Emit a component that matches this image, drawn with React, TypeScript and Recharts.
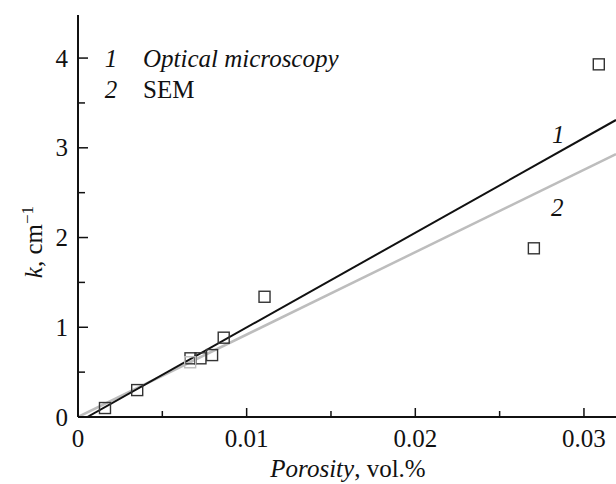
import { ComposedChart, Line, Scatter, XAxis, YAxis, ReferenceDot } from 'recharts'

const FONT = 'Liberation Serif, Times New Roman, DejaVu Serif, serif'

// measured points (porosity, vol.% / k, cm^-1)
const porosity = [0.0016, 0.00351, 0.00667, 0.00726, 0.00795, 0.00864, 0.01106, 0.02703, 0.03088]
const kValues = [0.1, 0.3, 0.654, 0.654, 0.69, 0.884, 1.34, 1.88, 3.93]

// the light square sitting on the SEM line
const semPorosity = [0.00665]
const semK = [0.61]

// fit lines
const fit1X = [0.00055, 0.0319]
const fit1K = [0, 3.31]
const fit2X = [0, 0.0319]
const fit2K = [0, 2.93]

const xTicks = [0, 0.005, 0.01, 0.015, 0.02, 0.025, 0.03]
const xTickLabels: Record<string, string> = { '0': '0', '0.01': '0.01', '0.02': '0.02', '0.03': '0.03' }
const yTicks = [0, 0.5, 1, 1.5, 2, 2.5, 3, 3.5, 4]
const yTickLabels: Record<string, string> = { '0': '0', '1': '1', '2': '2', '3': '3', '4': '4' }

const lineLabels = ['1', '2']
const lineLabelX = [0.02848, 0.02842]
const lineLabelK = [3.155, 2.34]

const points = porosity.map((x, i) => ({ x, k: kValues[i] }))
const semPoints = semPorosity.map((x, i) => ({ x, k: semK[i] }))
const fit1 = fit1X.map((x, i) => ({ x, k: fit1K[i] }))
const fit2 = fit2X.map((x, i) => ({ x, k: fit2K[i] }))

const txt = { fontFamily: FONT, fontSize: 25, fill: '#111' }

const XTick = (props: any) => {
  const { x, y, payload } = props
  const label = xTickLabels[String(payload.value)]
  return (
    <g>
      <line x1={x} y1={y} x2={x} y2={y - (label ? 9 : 6)} stroke="#111" strokeWidth={1.5} />
      {label && (
        <text x={x} y={y + 30} textAnchor="middle" style={txt}>
          {label}
        </text>
      )}
    </g>
  )
}

const YTick = (props: any) => {
  const { x, y, payload } = props
  const label = yTickLabels[String(payload.value)]
  return (
    <g>
      <line x1={x} y1={y} x2={x + (label ? 10 : 7)} y2={y} stroke="#111" strokeWidth={1.5} />
      {label && (
        <text x={x - 10} y={y + 8.5} textAnchor="end" style={txt}>
          {label}
        </text>
      )}
    </g>
  )
}

const Square = (props: any) => {
  const { cx, cy, stroke } = props
  if (cx == null || cy == null) return null
  return <rect x={cx - 5.5} y={cy - 5.5} width={11} height={11} fill="none" stroke={stroke} strokeWidth={1.4} />
}

export default function App() {
  return (
    <div style={{ position: 'absolute', left: 0, top: 0, width: 616, height: 484, background: '#fff' }}>
      <ComposedChart width={616} height={484} margin={{ top: 15, right: 0, bottom: 0, left: 0 }}>
        <XAxis
          dataKey="x"
          type="number"
          domain={[0, 0.0319]}
          ticks={xTicks}
          interval={0}
          allowDataOverflow
          height={67}
          tickSize={0}
          tickMargin={0}
          tickLine={false}
          tick={<XTick />}
          axisLine={{ stroke: '#111', strokeWidth: 2 }}
        />
        <XAxis
          xAxisId="top"
          orientation="top"
          dataKey="x"
          type="number"
          domain={[0, 0.0319]}
          height={0}
          tick={false}
          tickLine={false}
          axisLine={{ stroke: '#111', strokeWidth: 2 }}
        />
        <YAxis
          dataKey="k"
          type="number"
          domain={[0, 4.48]}
          ticks={yTicks}
          interval={0}
          allowDataOverflow
          width={78}
          tickSize={0}
          tickMargin={0}
          tickLine={false}
          tick={<YTick />}
          axisLine={{ stroke: '#111', strokeWidth: 2 }}
          label={{
            content: () => (
              <text transform="translate(42 242) rotate(-90)" textAnchor="middle" style={txt}>
                <tspan style={{ fontStyle: 'italic' }}>k</tspan>
                <tspan>, cm</tspan>
                <tspan dy={-9} style={{ fontSize: 17 }}>−1</tspan>
              </text>
            )
          }}
        />
        <Line data={fit2} dataKey="k" stroke="#bdbdbd" strokeWidth={2.5} dot={false} isAnimationActive={false} />
        <Line data={fit1} dataKey="k" stroke="#111" strokeWidth={2} dot={false} isAnimationActive={false} />
        <Scatter data={points} dataKey="k" shape={<Square stroke="#333" />} isAnimationActive={false} />
        <Scatter data={semPoints} dataKey="k" shape={<Square stroke="#bdbdbd" />} isAnimationActive={false} />
        {lineLabels.map((t, i) => (
          <ReferenceDot
            key={t}
            x={lineLabelX[i]}
            y={lineLabelK[i]}
            r={0}
            stroke="none"
            label={{
              value: t,
              position: 'center',
              style: { fontFamily: FONT, fontSize: 25, fontStyle: 'italic', fill: '#111' }
            }}
          />
        ))}
        <text x={111} y={67} textAnchor="middle" style={{ ...txt, fontStyle: 'italic' }}>
          1
        </text>
        <text x={143} y={67} style={{ ...txt, fontStyle: 'italic' }}>
          Optical microscopy
        </text>
        <text x={111} y={98} textAnchor="middle" style={{ ...txt, fontStyle: 'italic' }}>
          2
        </text>
        <text x={143} y={98} style={txt}>
          SEM
        </text>
        <text x={348} y={477} textAnchor="middle" style={txt}>
          <tspan style={{ fontStyle: 'italic' }}>Porosity</tspan>
          <tspan>, vol.%</tspan>
        </text>
      </ComposedChart>
    </div>
  )
}
